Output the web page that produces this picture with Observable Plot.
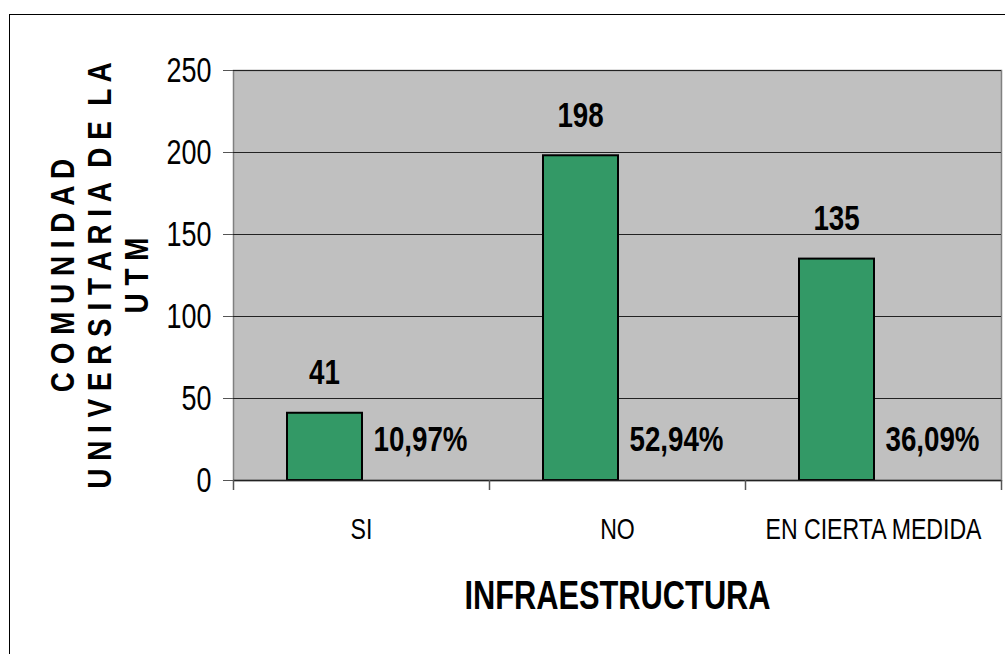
<!DOCTYPE html>
<html>
<head>
<meta charset="utf-8">
<script src="https://cdn.jsdelivr.net/npm/d3@7"></script>
<script src="https://cdn.jsdelivr.net/npm/@observablehq/plot@0.6"></script>
<style>
  html, body { margin: 0; padding: 0; background: #fff; }
  #wrap { position: relative; width: 1005px; height: 654px; overflow: hidden; }
  #border { position: absolute; left: 9px; top: 14px; width: 1010px; height: 660px; border: 1.5px solid #000; box-sizing: border-box; }
  #chart { position: absolute; left: 0; top: 0; }
</style>
</head>
<body>
<div id="wrap">
  <div id="border"></div>
  <div id="chart"></div>
</div>
<script>
// Respuestas sobre infraestructura
const categories = ["SI", "NO", "EN CIERTA MEDIDA"];
const counts = [41, 198, 135];
const percents = ["10,97%", "52,94%", "36,09%"];
const yTicks = [0, 50, 100, 150, 200, 250];
const yLabel = "C O M U N I D A D\nU N I V E R S I T A R I A  D E  L A\nU T M";
const xLabel = "INFRAESTRUCTURA";

const rows = categories.map((c, i) => ({category: c, count: counts[i], percent: percents[i]}));

const W = 1005, H = 654;
const mL = 233, mR = 4, mT = 70, mB = 174;
const band = (W - mL - mR) / categories.length;
const font = "'Liberation Sans', Arial, sans-serif";

const chart = Plot.plot({
  width: W,
  height: H,
  marginLeft: mL,
  marginRight: mR,
  marginTop: mT,
  marginBottom: mB,
  style: {fontFamily: font, fontSize: "34px", background: "transparent", color: "#000"},
  x: {domain: categories, padding: 0, label: null},
  y: {domain: [0, 250], label: null},
  marks: [
    Plot.frame({fill: "#c0c0c0", stroke: "#808080", strokeWidth: 1.5}),
    Plot.gridY(yTicks, {stroke: "#222", strokeOpacity: 1, strokeWidth: 1}),
    Plot.barY(rows, {
      x: "category", y: "count",
      fill: "#339966", stroke: "#000", strokeWidth: 2,
      insetLeft: 54, insetRight: 127
    }),
    Plot.ruleY([0], {stroke: "#222", strokeWidth: 1.5}),
    Plot.axisY({ticks: yTicks, tickSize: 10, tickPadding: 12, stroke: "#555", line: true, label: null, fontSize: 35}),
    Plot.axisX({tickSize: 0, tickPadding: 37, label: null, fontSize: 30}),
    // category boundary ticks below the axis
    Plot.ruleX(categories, {x: d => d, dx: -band / 2, y1: 0, y2: 0, insetBottom: -10, stroke: "#555", strokeWidth: 1.5}),
    Plot.ruleX(categories.slice(-1), {x: d => d, dx: band / 2, y1: 0, y2: 0, insetBottom: -10, stroke: "#555", strokeWidth: 1.5}),
    Plot.text(rows, {
      x: "category", y: "count", text: d => String(d.count),
      dx: -37, dy: -29, lineAnchor: "bottom",
      fontWeight: "bold", fontSize: 36
    }),
    Plot.text(rows, {
      x: "category", y: () => 0, text: "percent",
      dx: 59, dy: -41, lineAnchor: "middle",
      fontWeight: "bold", fontSize: 36
    }),
    Plot.text([xLabel], {
      frameAnchor: "bottom", dy: 116, lineAnchor: "middle",
      fontWeight: "bold", fontSize: 40
    }),
    Plot.text([yLabel], {
      frameAnchor: "left", dx: -134, rotate: -90,
      textAnchor: "middle", lineAnchor: "middle",
      fontWeight: "bold", fontSize: 34, lineHeight: 1.09, className: "ylabel"
    })
  ]
});

// Condense every label horizontally (narrow typeface look)
chart.querySelectorAll("text").forEach(t => {
  const isY = t.closest(".ylabel") != null;
  const s = isY ? 0.82 : 0.77;
  const tr = t.getAttribute("transform");
  if (tr) {
    t.setAttribute("transform", `${tr} scale(${s},1)`);
  } else {
    const x = +(t.getAttribute("x") || 0), y = +(t.getAttribute("y") || 0);
    t.removeAttribute("x"); t.removeAttribute("y");
    t.setAttribute("transform", `translate(${x},${y}) scale(${s},1)`);
  }
});

document.getElementById("chart").appendChild(chart);
</script>
</body>
</html>
